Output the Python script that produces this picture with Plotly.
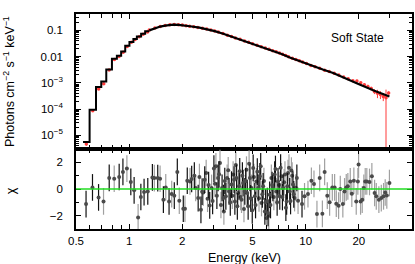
import plotly.graph_objects as go
from plotly.subplots import make_subplots

# ---------------- data ----------------
# model: coarse low-energy bins drawn as steps (left edges + values), last right edge
model_bin_lo = [0.548, 0.597, 0.649, 0.695, 0.742, 0.799, 0.852, 0.901, 0.950,
                1.004, 1.057, 1.106, 1.169, 1.232]
model_bin_val = [5.5e-6, 9.3e-5, 6.9e-4, 1.12e-3, 3.2e-3, 8.3e-3, 1.08e-2, 1.58e-2,
                 2.6e-2, 3.6e-2, 4.7e-2, 5.9e-2, 7.5e-2, 0.092]
model_bin_last_hi = 1.30
# model: smooth part
model_E = [1.30, 1.40, 1.50, 1.60, 1.70, 1.78, 1.90, 2.00, 2.21, 2.50, 2.75, 3.05,
           3.41, 3.80, 4.24, 4.70, 5.27, 5.90, 6.53, 7.30, 8.12, 9.25, 11.0, 12.5,
           14.3, 17.0, 20.2, 24.5, 29.8]
model_F = [0.100, 0.122, 0.140, 0.152, 0.161, 0.165, 0.163, 0.158, 0.144, 0.127,
           0.113, 0.094, 0.075, 0.058, 0.044, 0.035, 0.027, 0.021, 0.0168, 0.0126,
           0.0093, 0.0066, 0.0044, 0.0032, 0.00237, 0.00140, 0.00086, 0.00050,
           0.00030]

# unfolded data (red)
data_E = [0.572, 0.622, 0.672, 0.718, 0.770, 0.825, 0.876, 0.925, 0.975, 1.03,
          1.08, 1.14, 1.20, 1.27, 1.30, 1.40, 1.50, 1.60, 1.70, 1.80, 1.90, 2.00,
          2.10, 2.20, 2.32, 2.45, 2.60, 2.75, 2.90, 3.05, 3.20, 3.40, 3.60, 3.80,
          4.00, 4.25, 4.50, 4.75, 5.00, 5.30, 5.60, 5.90, 6.20, 6.50, 6.80, 7.10,
          7.40, 7.70, 8.00, 8.40, 8.80, 9.20, 9.60, 10.1, 10.7, 11.3, 12.0, 12.8,
          13.6, 14.5, 15.4, 16.4, 17.4, 18.5, 19.5, 20.5, 21.5, 22.5, 23.5, 24.5,
          25.5, 26.5, 27.5, 28.5, 29.5]
data_F = [4.6e-6, 8.5e-5, 5.8e-4, 9.3e-4, 3.1e-3, 7.7e-3, 1.02e-2, 1.48e-2, 2.45e-2,
          3.5e-2, 4.5e-2, 5.7e-2, 7.2e-2, 8.7e-2, 0.103, 0.123, 0.141, 0.155, 0.164,
          0.168, 0.164, 0.160, 0.152, 0.145, 0.137, 0.130, 0.122, 0.114, 0.104,
          0.095, 0.086, 0.077, 0.066, 0.059, 0.051, 0.046, 0.039, 0.035, 0.031,
          0.0272, 0.0236, 0.0212, 0.0190, 0.0166, 0.0152, 0.0136, 0.0122, 0.0110,
          0.0099, 0.0086, 0.0078, 0.0069, 0.0062, 0.0054, 0.0046, 0.0041, 0.0036,
          0.0030, 0.0027, 0.0023, 0.0020, 0.00168, 0.00142, 0.00121, 0.00118,
          0.00100, 0.00084, 0.00073, 0.00061, 0.00047, 0.00040, 0.00036, 0.00030,
          0.00027, 0.00041]
data_err = [0.6e-6, 8e-6, 4e-5, 6e-5, 1.5e-4, 3e-4, 4e-4, 5e-4, 8e-4, 1e-3, 1.2e-3,
            1.5e-3, 2e-3, 2e-3, 2e-3, 2e-3, 2e-3, 2e-3, 2e-3, 2e-3, 2e-3, 2e-3,
            2e-3, 2e-3, 2e-3, 2e-3, 2e-3, 2e-3, 2e-3, 2e-3, 2e-3, 2e-3, 2e-3,
            1.5e-3, 1.5e-3, 1.2e-3, 1.2e-3, 1e-3, 1e-3, 8e-4, 8e-4, 7e-4, 7e-4,
            6e-4, 6e-4, 5e-4, 5e-4, 5e-4, 4e-4, 4e-4, 4e-4, 3e-4, 3e-4, 3e-4,
            3e-4, 2.5e-4, 2.5e-4, 2.2e-4, 2e-4, 1.8e-4, 1.6e-4, 1.5e-4, 1.4e-4,
            1.3e-4, 1.3e-4, 1.2e-4, 1.1e-4, 1.1e-4, 1.0e-4, 1.0e-4, 1.4e-4,
            1.2e-4, 1.0e-4, 2.8e-4, 6e-5]

# residuals (chi) drawn with black error bars
res_black_E = [0.570, 0.620, 0.671, 0.771, 0.878, 0.922, 1.022, 1.067, 1.165, 1.215,
               1.275, 1.354, 1.452, 1.563, 1.683, 1.802, 1.874, 2.026, 2.134, 2.26,
               2.34, 2.46, 2.55, 2.68, 2.86, 3.02, 3.19, 3.36, 3.42, 3.53, 3.68, 3.80,
               3.97, 4.06, 4.23, 4.42, 4.52, 4.72, 4.83, 5.04, 5.15, 5.38, 5.50, 5.74,
               5.87, 6.12, 6.25, 6.52, 6.67, 6.97, 7.13, 7.46, 7.80, 8.12, 8.47, 8.91,
               9.53,
               2.59, 2.82, 2.97, 3.14, 3.23, 3.48, 3.74, 3.93, 4.10, 4.19, 4.38, 4.57,
               4.67, 4.88, 4.98, 5.20, 5.32, 5.56, 5.68, 5.93, 6.06, 6.32, 6.45, 6.74,
               6.89, 7.21, 7.38, 7.72, 7.87, 8.21, 8.56]
res_black_chi = [-1.13, 0.12, -0.63, 0.83, 0.90, 1.28, 0.53, -0.10, -0.60, -0.23,
                 -0.18, 0.87, 0.82, -0.80, -0.93, -0.50, 1.28, -1.48, 0.62, 0.75,
                 1.00, -0.68, -1.56, 0.70, -1.23, 1.53, 0.83, 0.08, -0.68, -0.55,
                 -0.18, 0.33, -0.93, 0.83, 1.33, 0.45, -0.18, -1.30, 0.83, 1.58,
                 -0.55, 0.08, 0.95, 0.20, -1.68, -1.80, -0.43, 0.08, 1.08, 0.57,
                 -0.55, 0.08, -0.93, -0.18, 0.33, 0.83, -1.13,
                 -0.20, 0.30, -0.90, -0.50, 1.10, 0.60, -1.00, 0.70, -1.30, 0.20,
                 1.00, 0.60, -0.30, -0.70, -1.60, -1.20, 1.30, 1.70, -0.40, -1.00,
                 -0.90, -1.20, 0.30, 1.50, -1.00, 1.60, -0.60, -1.40, 0.20, -0.90,
                 -0.40]
# residuals (chi) drawn with grey error bars
res_grey_E = [0.716, 0.823, 0.971, 1.124, 1.389, 1.497, 1.612, 1.742, 1.923, 2.071,
              2.211, 2.38, 2.63, 2.78, 2.93, 3.10, 3.27, 3.44, 3.59, 3.88, 4.14,
              4.33, 4.62, 4.93, 5.26, 5.62, 6.00, 6.39, 6.81, 7.29, 7.63, 7.94, 8.30,
              8.65, 9.05, 9.85,
              2.50, 2.73, 3.06, 3.31, 3.64, 3.84, 4.02, 4.28, 4.47, 4.78, 5.09, 5.44,
              5.80, 6.18, 6.60, 7.05, 7.55, 8.04, 8.38, 8.78,
              10.3, 10.77, 11.14, 11.58, 12.0, 12.43, 12.8, 13.25, 13.66, 14.15,
              14.58, 14.9, 15.36, 15.7, 16.23, 16.6, 16.97, 17.33, 17.88, 18.25,
              18.74, 19.33, 19.74, 19.93, 20.45, 20.9, 21.34, 21.73, 22.19, 22.99,
              23.7, 24.56, 25.1, 25.97, 26.8, 27.6, 28.2, 28.8, 29.8]
res_grey_chi = [-0.93, 0.77, 1.53, -2.13, 0.82, 0.77, 0.12, -0.38, -0.88, -1.48,
                0.57, 0.08, -0.26, -0.73, 0.08, 1.70, 1.95, -1.68, 0.83, 1.08, -0.30,
                -0.80, 1.45, 0.08, 0.57, -1.05, -2.18, 0.83, -0.18, 0.95, 1.08, 1.20,
                1.38, -0.68, -0.88, -0.55,
                0.90, 1.20, 0.40, -1.20, 1.40, -0.50, 1.80, -0.60, -1.50, 1.90, 0.90,
                -0.70, 0.60, -2.00, -0.60, 0.30, 0.50, 1.60, 1.00, 0.10,
                -0.38, 0.62, 0.38, -1.88, 0.83, -1.86, 1.28, -0.50, -1.00, 0.12, 0.12,
                -1.10, -1.25, 0.00, -1.13, -0.18, 0.12, 0.20, 0.57, -0.35, 0.62,
                -0.93, 0.57, 1.83, -0.93, -0.80, 0.08, 0.57, 0.57, 0.53, 0.95, -0.30,
                -0.55, -0.80, -0.68, -0.55, -0.26, -0.48, 0.45]

x_major = [0.5, 1, 2, 5, 10, 20]
x_major_text = ["0.5", "1", "2", "5", "10", "20"]
x_minor = [0.6, 0.7, 0.8, 0.9, 3, 4, 6, 7, 8, 9, 30, 40]
y_major = [1e-5, 1e-4, 1e-3, 1e-2, 1e-1]
y_major_text = ["10<sup>−5</sup>", "10<sup>−4</sup>", "10<sup>−3</sup>", "0.01", "0.1"]
r_major = [-2, 0, 2]
r_major_text = ["−2", "0", "2"]
r_minor = [-1, 1]

# ---------------- figure ----------------
FONT = "Liberation Sans, Arial, Helvetica, sans-serif"
fig = make_subplots(rows=2, cols=1, shared_xaxes=True, vertical_spacing=0,
                    row_heights=[0.628, 0.372])

# red data
fig.add_trace(go.Scatter(x=data_E, y=data_F, mode="markers",
                         marker=dict(color="#ff3b3b", size=3.5),
                         error_y=dict(type="data", array=data_err, color="#ff3b3b",
                                      thickness=1, width=0),
                         showlegend=False), row=1, col=1)
# model steps
step_x = model_bin_lo + [model_bin_last_hi]
step_y = model_bin_val + [model_bin_val[-1]]
fig.add_trace(go.Scatter(x=step_x, y=step_y, mode="lines", line_shape="hv",
                         line=dict(color="black", width=2), showlegend=False),
              row=1, col=1)
fig.add_trace(go.Scatter(x=model_E, y=model_F, mode="lines",
                         line=dict(color="black", width=2.2), showlegend=False),
              row=1, col=1)

# residuals
for xs, ys, bar_col in ((res_grey_E, res_grey_chi, "#a0a0a0"),
                        (res_black_E, res_black_chi, "#111111")):
    fig.add_trace(go.Scatter(x=xs, y=ys, mode="markers",
                             marker=dict(color="#4a4a4a", size=4),
                             error_y=dict(type="constant", value=1.0, color=bar_col,
                                          thickness=1.2, width=0),
                             showlegend=False), row=2, col=1)

# zero line
fig.add_shape(type="line", xref="x2 domain", yref="y2", x0=0, x1=1, y0=0, y1=0,
              line=dict(color="#22dd22", width=1.6), layer="above")

axis_common = dict(showline=True, linecolor="black", linewidth=1.5, mirror="allticks",
                   ticks="inside", tickcolor="black", showgrid=False, zeroline=False,
                   automargin=False)
xrange = [-0.30103, 1.60206]
fig.update_xaxes(type="log", range=xrange, tickmode="array", tickvals=x_major,
                 ticktext=x_major_text, ticklen=5, tickwidth=1.2,
                 minor=dict(tickmode="array", tickvals=x_minor, ticks="inside",
                            ticklen=4, tickwidth=1.2, tickcolor="black"),
                 **axis_common)
fig.update_xaxes(showticklabels=False, row=1, col=1)
fig.update_xaxes(showticklabels=True, row=2, col=1, ticklabelstandoff=0)

fig.update_yaxes(type="log", range=[-5.527, -0.374], tickmode="array",
                 tickvals=y_major, ticktext=y_major_text, ticklen=5, tickwidth=1.2,
                 ticklabelstandoff=9,
                 minor=dict(tickmode="array",
                            tickvals=[m * 10 ** d for d in range(-6, 0) for m in range(2, 10)],
                            ticks="inside", ticklen=3, tickwidth=1, tickcolor="black"),
                 row=1, col=1, **axis_common)
fig.update_yaxes(range=[-3, 3], tickmode="array", tickvals=r_major,
                 ticktext=r_major_text, ticklen=5, tickwidth=1.2, ticklabelstandoff=9,
                 minor=dict(tickmode="array", tickvals=r_minor, ticks="inside",
                            ticklen=3, tickwidth=1, tickcolor="black"),
                 row=2, col=1, **axis_common)

fig.add_annotation(text="Photons cm<sup>−2</sup> s<sup>−1</sup> keV<sup>−1</sup>",
                   xref="paper", yref="paper", x=-0.201, y=0.686, textangle=-90,
                   xanchor="center", yanchor="middle", showarrow=False,
                   font=dict(size=12.5, color="black", family=FONT))
fig.add_annotation(text="χ", xref="paper", yref="paper", x=-0.195, y=0.178,
                   textangle=-90, xanchor="center", yanchor="middle", showarrow=False,
                   font=dict(size=12.5, color="black", family=FONT))
fig.add_annotation(text="Soft State", xref="paper", yref="paper", x=0.839, y=0.89,
                   xanchor="center", yanchor="middle", showarrow=False,
                   font=dict(size=12, color="black", family=FONT))
fig.add_annotation(text="Energy (keV)", xref="paper", yref="paper", x=0.5, y=-0.135,
                   xanchor="center", yanchor="middle", showarrow=False,
                   font=dict(size=12.5, color="black", family=FONT))

fig.update_layout(width=415, height=264,
                  margin=dict(l=76, r=3, t=14, b=35, autoexpand=False),
                  paper_bgcolor="white", plot_bgcolor="white",
                  font=dict(family=FONT, size=11.5, color="black"),
                  showlegend=False)

fig.write_html("out.html", config={"displayModeBar": False},
               post_script="document.body.style.margin='0';"
                           "document.body.style.padding='0';"
                           "document.body.style.overflow='hidden';")
